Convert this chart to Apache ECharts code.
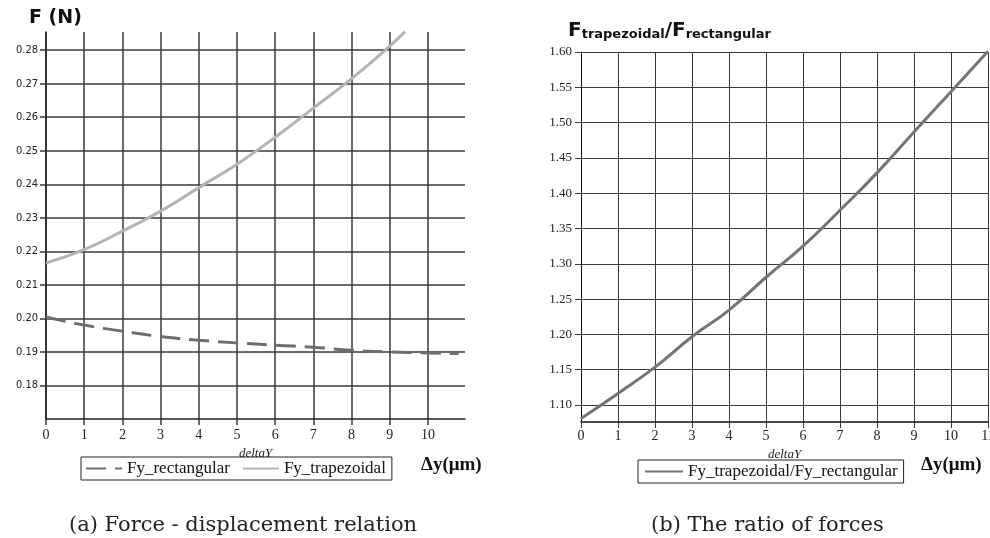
<!DOCTYPE html>
<html>
<head>
<meta charset="utf-8">
<script src="https://cdn.jsdelivr.net/npm/echarts@6/dist/echarts.min.js"></script>
<style>
  html, body { margin: 0; padding: 0; background: #fff; }
  #main { width: 990px; height: 538px; }
</style>
</head>
<body>
<div id="main"></div>
<script>
// (a) force vs displacement
var rectX = [0, 1, 2, 3, 4, 5, 6, 7, 8, 9, 10, 10.8];
var fyRect = [0.2004, 0.198, 0.1962, 0.1946, 0.1935, 0.1927, 0.192, 0.1914, 0.1905, 0.19, 0.1897, 0.1895];
var trapX = [0, 1, 2, 3, 4, 5, 6, 7, 8, 9, 9.4];
var fyTrap = [0.2165, 0.2205, 0.226, 0.232, 0.239, 0.246, 0.254, 0.2627, 0.2715, 0.2812, 0.2855];
// (b) ratio of forces
var ratioX = [0, 1, 2, 3, 4, 5, 6, 7, 8, 9, 10, 11];
var ratio = [1.081, 1.1165, 1.1537, 1.1968, 1.2345, 1.281, 1.325, 1.3759, 1.4288, 1.4867, 1.5438, 1.601];
// tick labels
var leftXTicks = [0, 1, 2, 3, 4, 5, 6, 7, 8, 9, 10];
var leftYTicks = [0.18, 0.19, 0.20, 0.21, 0.22, 0.23, 0.24, 0.25, 0.26, 0.27, 0.28];
var rightYTicks = [1.10, 1.15, 1.20, 1.25, 1.30, 1.35, 1.40, 1.45, 1.50, 1.55, 1.60];

function pairs(xs, ys) {
  return xs.map(function (x, i) { return [x, ys[i]]; });
}

var chart = echarts.init(document.getElementById('main'));

var serif = 'Liberation Serif';
var gridColor = '#3a3a3a';

var option = {
  animation: false,
  backgroundColor: '#fff',
  title: [
    { text: 'F (N)', left: 24, top: 4,
      textStyle: { fontFamily: 'DejaVu Sans', fontWeight: 'bold', fontSize: 19, color: '#111' } },
    { text: '{b|F}{s|trapezoidal}{b|/}{b|F}{s|rectangular}', left: 563, top: 12,
      textStyle: { rich: {
        b: { fontFamily: 'DejaVu Sans', fontWeight: 'bold', fontSize: 20, color: '#111', verticalAlign: 'bottom', lineHeight: 24 },
        s: { fontFamily: 'DejaVu Sans', fontWeight: 'bold', fontSize: 13, color: '#111', verticalAlign: 'bottom', lineHeight: 22 }
      } } },
    { text: 'Δy(μm)', left: 416, top: 451,
      textStyle: { fontFamily: serif, fontWeight: 'bold', fontSize: 19, color: '#111' } },
    { text: 'Δy(μm)', left: 916, top: 451,
      textStyle: { fontFamily: serif, fontWeight: 'bold', fontSize: 19, color: '#111' } },
    { text: '(a) Force - displacement relation', left: 64, top: 510,
      textStyle: { fontFamily: 'DejaVu Serif', fontWeight: 'normal', fontSize: 21, color: '#222' } },
    { text: '(b) The ratio of forces', left: 646, top: 510,
      textStyle: { fontFamily: 'DejaVu Serif', fontWeight: 'normal', fontSize: 21, color: '#222' } }
  ],
  legend: [
    { data: ['Fy_rectangular', 'Fy_trapezoidal'], left: 81, top: 457,
      orient: 'horizontal', itemWidth: 36, itemHeight: 4, itemGap: 12,
      itemStyle: { opacity: 0 },
      padding: [3, 6, 3, 4], borderColor: '#222', borderWidth: 1, backgroundColor: '#fff',
      textStyle: { fontFamily: serif, fontSize: 17, color: '#111' } },
    { data: ['Fy_trapezoidal/Fy_rectangular'], left: 638, top: 460,
      itemWidth: 38, itemHeight: 4,
      itemStyle: { opacity: 0 },
      padding: [3, 6, 3, 6], borderColor: '#222', borderWidth: 1, backgroundColor: '#fff',
      textStyle: { fontFamily: serif, fontSize: 17, color: '#111' } }
  ],
  grid: [
    { left: 46, top: 32, width: 419, height: 387, containLabel: false, outerBoundsMode: 'none' },
    { left: 581, top: 52, width: 407, height: 370, containLabel: false, outerBoundsMode: 'none' }
  ],
  xAxis: [
    { gridIndex: 0, type: 'value', min: 0, max: 10.97,
      name: 'deltaY', nameLocation: 'middle', nameGap: 24,
      nameTextStyle: { fontFamily: serif, fontStyle: 'italic', fontSize: 13, color: '#222' },
      axisLine: { show: true, lineStyle: { color: '#222', width: 1.5 } },
      axisTick: { show: true, length: 6, customValues: leftXTicks, lineStyle: { color: gridColor, width: 1.5 } },
      axisLabel: { customValues: leftXTicks, fontFamily: serif, fontSize: 14, color: '#222', margin: 9 },
      splitLine: { show: true, lineStyle: { color: gridColor, width: 1.5 } } },
    { gridIndex: 1, type: 'value', min: 0, max: 11, interval: 1,
      name: 'deltaY', nameLocation: 'middle', nameGap: 26,
      nameTextStyle: { fontFamily: serif, fontStyle: 'italic', fontSize: 13, color: '#222' },
      axisLine: { show: true, lineStyle: { color: '#111', width: 1.5 } },
      axisTick: { show: true, length: 6, lineStyle: { color: gridColor } },
      axisLabel: { fontFamily: serif, fontSize: 14, color: '#222', margin: 7 },
      splitLine: { show: true, lineStyle: { color: gridColor, width: 1 } } }
  ],
  yAxis: [
    { gridIndex: 0, type: 'value', min: 0.17, max: 0.2854,
      axisLine: { show: true, lineStyle: { color: '#222', width: 1.5 } },
      axisTick: { show: true, length: 6, customValues: leftYTicks, lineStyle: { color: gridColor, width: 1.5 } },
      axisLabel: { customValues: leftYTicks, fontFamily: 'DejaVu Sans Condensed', fontSize: 11, color: '#222', margin: 8,
        formatter: function (v) { return v.toFixed(2); } },
      splitLine: { show: true, lineStyle: { color: gridColor, width: 1.5 } } },
    { gridIndex: 1, type: 'value', min: 1.076, max: 1.60,
      axisLine: { show: true, lineStyle: { color: '#111', width: 1 } },
      axisTick: { show: true, length: 6, customValues: rightYTicks, lineStyle: { color: gridColor } },
      axisLabel: { customValues: rightYTicks, fontFamily: serif, fontSize: 13, color: '#222', margin: 9,
        formatter: function (v) { return v.toFixed(2); } },
      splitLine: { show: true, lineStyle: { color: gridColor, width: 1 } } }
  ],
  series: [
    { name: 'Fy_rectangular', type: 'line', xAxisIndex: 0, yAxisIndex: 0,
      data: pairs(rectX, fyRect), smooth: true, symbol: 'none',
      lineStyle: { color: '#6e6e6e', width: 3, type: [20, 9] }, itemStyle: { color: '#6e6e6e' } },
    { name: 'Fy_trapezoidal', type: 'line', xAxisIndex: 0, yAxisIndex: 0,
      data: pairs(trapX, fyTrap), smooth: true, symbol: 'none',
      lineStyle: { color: '#b3b3b3', width: 3 }, itemStyle: { color: '#b3b3b3' } },
    { name: 'Fy_trapezoidal/Fy_rectangular', type: 'line', xAxisIndex: 1, yAxisIndex: 1,
      data: pairs(ratioX, ratio), smooth: true, symbol: 'none',
      lineStyle: { color: '#747474', width: 3 }, itemStyle: { color: '#747474' } }
  ]
};

chart.setOption(option);
</script>
</body>
</html>
